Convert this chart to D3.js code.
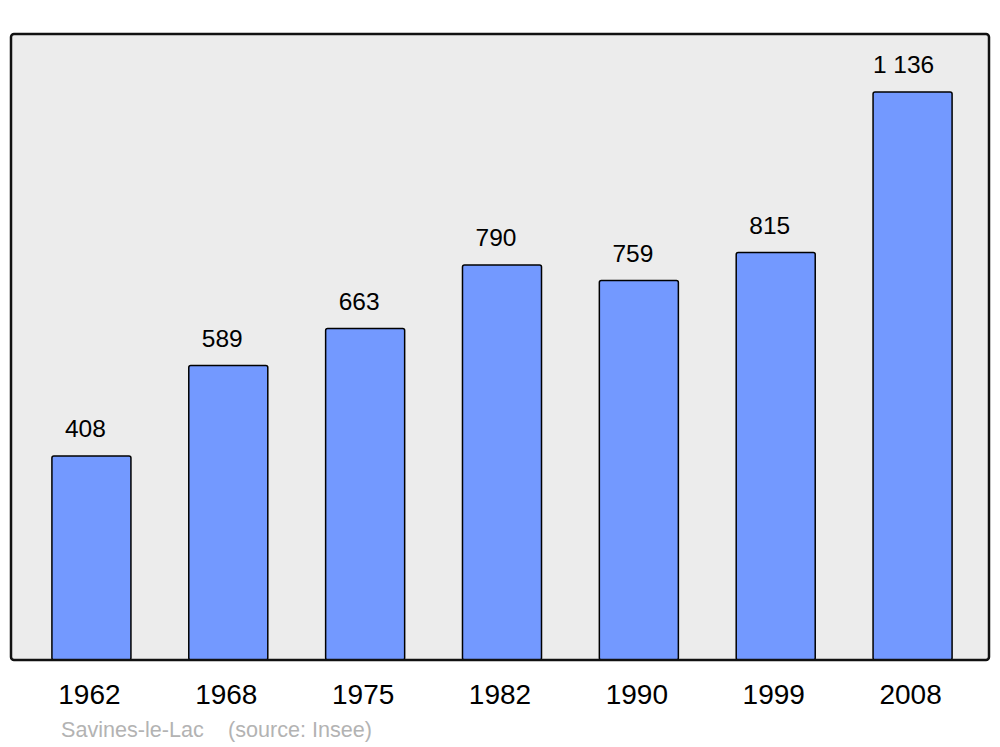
<!DOCTYPE html>
<html>
<head>
<meta charset="utf-8">
<script src="https://cdn.jsdelivr.net/npm/d3@7"></script>
<style>
  html, body { margin: 0; padding: 0; background: #ffffff; }
  svg { display: block; font-family: "Liberation Sans", Arial, sans-serif; }
</style>
</head>
<body>
<svg id="chart" width="1000" height="747"></svg>
<script>
const years = ["1962", "1968", "1975", "1982", "1990", "1999", "2008"];
const population = [408, 589, 663, 790, 759, 815, 1136];
const valueLabels = ["408", "589", "663", "790", "759", "815", "1 136"];
const townName = "Savines-le-Lac";
const sourceText = "(source: Insee)";

const svg = d3.select("#chart");
const frame = { left: 11, top: 34, right: 989, bottom: 660 };

const x = d3.scaleBand()
  .domain(years)
  .range([23, 981])
  .paddingInner(0.4226)
  .paddingOuter(0.2113);

const y = d3.scaleLinear()
  .domain([0, 1252])
  .range([frame.bottom, frame.top]);

// background
svg.append("rect")
  .attr("x", frame.left).attr("y", frame.top)
  .attr("width", frame.right - frame.left)
  .attr("height", frame.bottom - frame.top)
  .attr("rx", 3)
  .attr("fill", "#ececec");

const data = years.map((yr, i) => ({ yr, v: population[i], lab: valueLabels[i] }));

svg.append("g").selectAll("rect")
  .data(data).join("rect")
  .attr("x", d => x(d.yr))
  .attr("y", d => y(d.v))
  .attr("width", x.bandwidth())
  .attr("height", d => y(0) - y(d.v))
  .attr("rx", 2)
  .attr("fill", "#7399ff")
  .attr("stroke", "#000")
  .attr("stroke-width", 1.5);

svg.append("g").selectAll("text")
  .data(data).join("text")
  .attr("x", d => x(d.yr) + x.bandwidth() / 2 - 6 - (d.lab.length > 3 ? 3 : 0))
  .attr("y", d => y(d.v) - 19)
  .attr("text-anchor", "middle")
  .attr("font-size", 24.5)
  .attr("fill", "#000")
  .text(d => d.lab);

// frame stroke
svg.append("rect")
  .attr("x", frame.left).attr("y", frame.top)
  .attr("width", frame.right - frame.left)
  .attr("height", frame.bottom - frame.top)
  .attr("rx", 3)
  .attr("fill", "none")
  .attr("stroke", "#111")
  .attr("stroke-width", 2.5);

// x axis labels
const xAxis = d3.axisBottom(x).tickSize(0).tickPadding(0);
const gx = svg.append("g")
  .attr("transform", `translate(-2, ${frame.bottom})`)
  .call(xAxis);
gx.select(".domain").remove();
gx.selectAll("text")
  .attr("font-family", "Liberation Sans, Arial, sans-serif")
  .attr("font-size", 28)
  .attr("fill", "#000")
  .attr("dy", null)
  .attr("y", 44);

// footer
svg.append("text")
  .attr("x", 61).attr("y", 737)
  .attr("font-size", 21.6)
  .attr("fill", "#b3b3b3")
  .text(townName);
svg.append("text")
  .attr("x", 228).attr("y", 737)
  .attr("font-size", 21.6)
  .attr("fill", "#b3b3b3")
  .text(sourceText);
</script>
</body>
</html>
